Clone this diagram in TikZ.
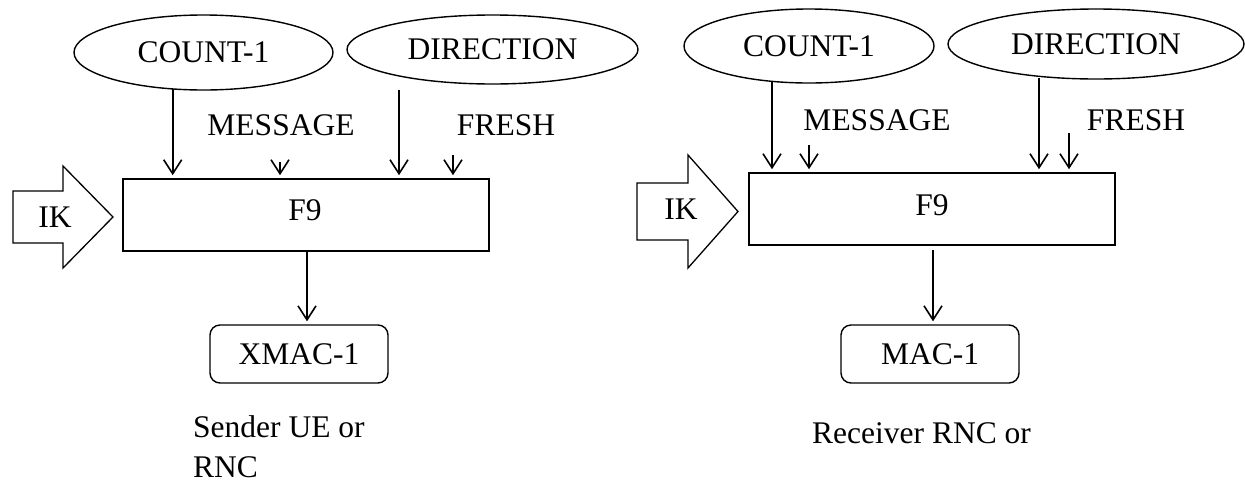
\documentclass[tikz,border=0pt]{standalone}
\usepackage{fontspec}
\setmainfont{Liberation Serif}
\usetikzlibrary{shapes.geometric,arrows.meta}
\begin{document}
\begin{tikzpicture}[x=1pt,y=-1pt,
  every node/.style={font=\fontsize{31.5}{40}\selectfont, inner sep=0pt},
  oval/.style={draw, ellipse, line width=1.4pt},
  fbox/.style={draw, rectangle, line width=1.6pt},
  rbox/.style={draw, rectangle, rounded corners=10pt, line width=1.4pt},
  arr/.style={line width=1.6pt, shorten >=3pt, -{Straight Barb[length=14pt,width=18pt,line width=1.6pt]}},
  blockarrow/.style={draw, line width=1.3pt, line join=miter}
]
\useasboundingbox (0,0) rectangle (1245,483);

% ---------- left diagram ----------
\node[oval, minimum width=259pt, minimum height=75pt] (countL) at (203.5,52.5) {COUNT-1};
\node[oval, minimum width=291pt, minimum height=69pt] (dirL) at (492.5,49.5) {DIRECTION};
\node (msgL) at (281,125) {MESSAGE};
\node (freshL) at (506,125) {FRESH};
\node[fbox, minimum width=366pt, minimum height=72pt] (f9L) at (306,215) {};
\node (f9Lt) at (305,210) {F9};
\draw[blockarrow] (13,191) -- (63,191) -- (63,166) -- (113,217) -- (63,268) -- (63,243) -- (13,243) -- cycle;
\node (ikL) at (55,217) {IK};
\node[rbox, minimum width=178pt, minimum height=58pt] (xmac) at (299,354) {XMAC-1};
\node[align=left, anchor=north west] (sender) at (193,415.5) {Sender UE or\\RNC};

\coordinate (cL) at (172.7,89);
\coordinate (mL) at (280,162);
\coordinate (dL) at (399,90);
\coordinate (fL) at (453,155);
\coordinate (oL) at (307,251);
\draw[arr] (cL) -- (cL |- f9L.north);
\draw[arr] (mL) -- (mL |- f9L.north);
\draw[arr] (dL) -- (dL |- f9L.north);
\draw[arr] (fL) -- (fL |- f9L.north);
\draw[arr] (oL) -- (oL |- xmac.north);

% ---------- right diagram ----------
\node[oval, minimum width=250pt, minimum height=74pt] (countR) at (809,46) {COUNT-1};
\node[oval, minimum width=296pt, minimum height=70pt] (dirR) at (1096,44) {DIRECTION};
\node (msgR) at (877,120) {MESSAGE};
\node (freshR) at (1136,120) {FRESH};
\node[fbox, minimum width=366pt, minimum height=72pt] (f9R) at (932,209) {};
\node (f9Rt) at (932,205) {F9};
\draw[blockarrow] (637,183) -- (688,183) -- (688,155) -- (738,211.5) -- (688,268) -- (688,240) -- (637,240) -- cycle;
\node (ikR) at (681,209) {IK};
\node[rbox, minimum width=178pt, minimum height=58pt] (mac) at (930,354) {MAC-1};
\node[anchor=base west] (recv) at (812,443) {Receiver RNC or};

\coordinate (cR) at (772,82);
\coordinate (mR) at (809,145);
\coordinate (dR) at (1039,78);
\coordinate (fR) at (1069,133);
\coordinate (oR) at (933,250);
\draw[arr] (cR) -- (cR |- f9R.north);
\draw[arr] (mR) -- (mR |- f9R.north);
\draw[arr] (dR) -- (dR |- f9R.north);
\draw[arr] (fR) -- (fR |- f9R.north);
\draw[arr] (oR) -- (oR |- mac.north);
\end{tikzpicture}
\end{document}
